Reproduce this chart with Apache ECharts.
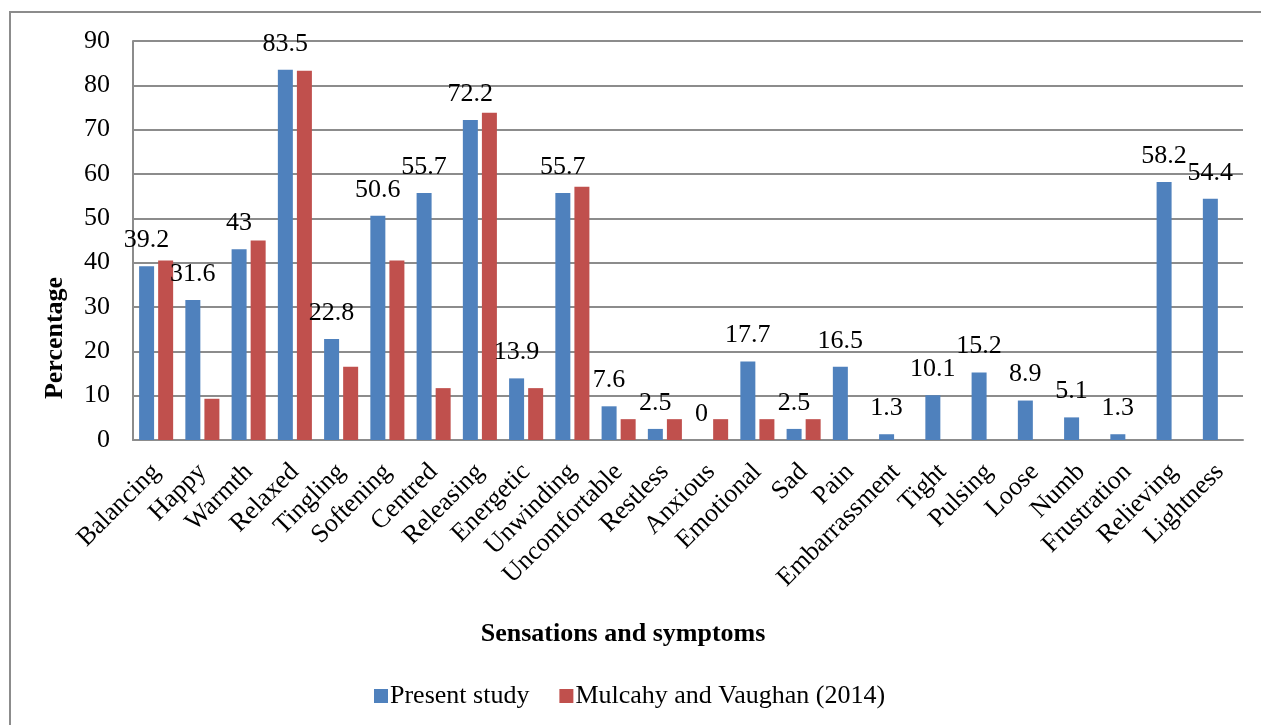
<!DOCTYPE html>
<html>
<head>
<meta charset="utf-8">
<script src="https://cdn.jsdelivr.net/npm/echarts@6/dist/echarts.min.js"></script>
<style>
  html, body { margin: 0; padding: 0; background: #fff; }
  #chart { width: 1261px; height: 725px; }
</style>
</head>
<body>
<div id="chart"></div>
<script>
// Sensations and symptoms reported, in percent
const categories = ['Balancing', 'Happy', 'Warmth', 'Relaxed', 'Tingling', 'Softening', 'Centred',
  'Releasing', 'Energetic', 'Unwinding', 'Uncomfortable', 'Restless', 'Anxious', 'Emotional', 'Sad',
  'Pain', 'Embarrassment', 'Tight', 'Pulsing', 'Loose', 'Numb', 'Frustration', 'Relieving', 'Lightness'];
const presentStudy = [39.2, 31.6, 43, 83.5, 22.8, 50.6, 55.7, 72.2, 13.9, 55.7, 7.6, 2.5, 0, 17.7, 2.5,
  16.5, 1.3, 10.1, 15.2, 8.9, 5.1, 1.3, 58.2, 54.4];
const mulcahyVaughan = [40.5, 9.3, 45, 83.3, 16.5, 40.5, 11.7, 73.8, 11.7, 57.1, 4.7, 4.7, 4.7, 4.7, 4.7,
  null, null, null, null, null, null, null, null, null];
const seriesNames = ['Present study', 'Mulcahy and Vaughan (2014)'];
const yTicks = { min: 0, max: 90, interval: 10 };

const FONT = '"Liberation Serif", "Times New Roman", serif';
const GRID_COLOR = '#8c8c8c';

const chart = echarts.init(document.getElementById('chart'));
chart.setOption({
  backgroundColor: '#fff',
  animation: false,
  textStyle: { fontFamily: FONT, color: '#000' },
  grid: { left: 133, right: 18, top: 41, bottom: 285, containLabel: false },
  legend: {
    data: seriesNames,
    left: 369,
    top: 678,
    icon: 'rect',
    itemWidth: 14,
    itemHeight: 14,
    itemGap: 30,
    textStyle: { fontFamily: FONT, fontSize: 26, color: '#000', padding: [0, 0, 0, -3] }
  },
  xAxis: {
    type: 'category',
    data: categories,
    axisLine: { show: true, lineStyle: { color: GRID_COLOR, width: 2 } },
    axisTick: { show: false },
    axisLabel: {
      interval: 0,
      rotate: 45,
      margin: 28,
      fontFamily: FONT,
      fontSize: 26,
      color: '#000'
    }
  },
  yAxis: {
    type: 'value',
    min: yTicks.min,
    max: yTicks.max,
    interval: yTicks.interval,
    axisLine: { show: true, lineStyle: { color: GRID_COLOR, width: 2 } },
    axisTick: { show: false },
    splitLine: { show: true, lineStyle: { color: GRID_COLOR, width: 2 } },
    axisLabel: { margin: 23, fontFamily: FONT, fontSize: 26, color: '#000' }
  },
  series: [
    {
      name: seriesNames[0],
      type: 'bar',
      data: presentStudy,
      barWidth: 15,
      barGap: '27%',
      itemStyle: { color: '#4F81BD' },
      label: {
        show: true,
        position: 'top',
        distance: 13,
        fontFamily: FONT,
        fontSize: 26,
        color: '#000'
      }
    },
    {
      name: seriesNames[1],
      type: 'bar',
      data: mulcahyVaughan,
      barWidth: 15,
      itemStyle: { color: '#C0504D' }
    }
  ],
  graphic: [
    {
      type: 'rect',
      shape: { x: 10, y: 12, width: 1400, height: 900 },
      style: { fill: null, stroke: GRID_COLOR, lineWidth: 2 },
      silent: true
    },
    {
      type: 'text',
      x: 55,
      y: 338,
      rotation: Math.PI / 2,
      style: {
        text: 'Percentage',
        font: 'bold 26px ' + FONT,
        fill: '#000',
        align: 'center',
        verticalAlign: 'middle'
      }
    },
    {
      type: 'text',
      x: 623,
      y: 634,
      style: {
        text: 'Sensations and symptoms',
        font: 'bold 26px ' + FONT,
        fill: '#000',
        align: 'center',
        verticalAlign: 'middle'
      }
    }
  ]
});
</script>
</body>
</html>
